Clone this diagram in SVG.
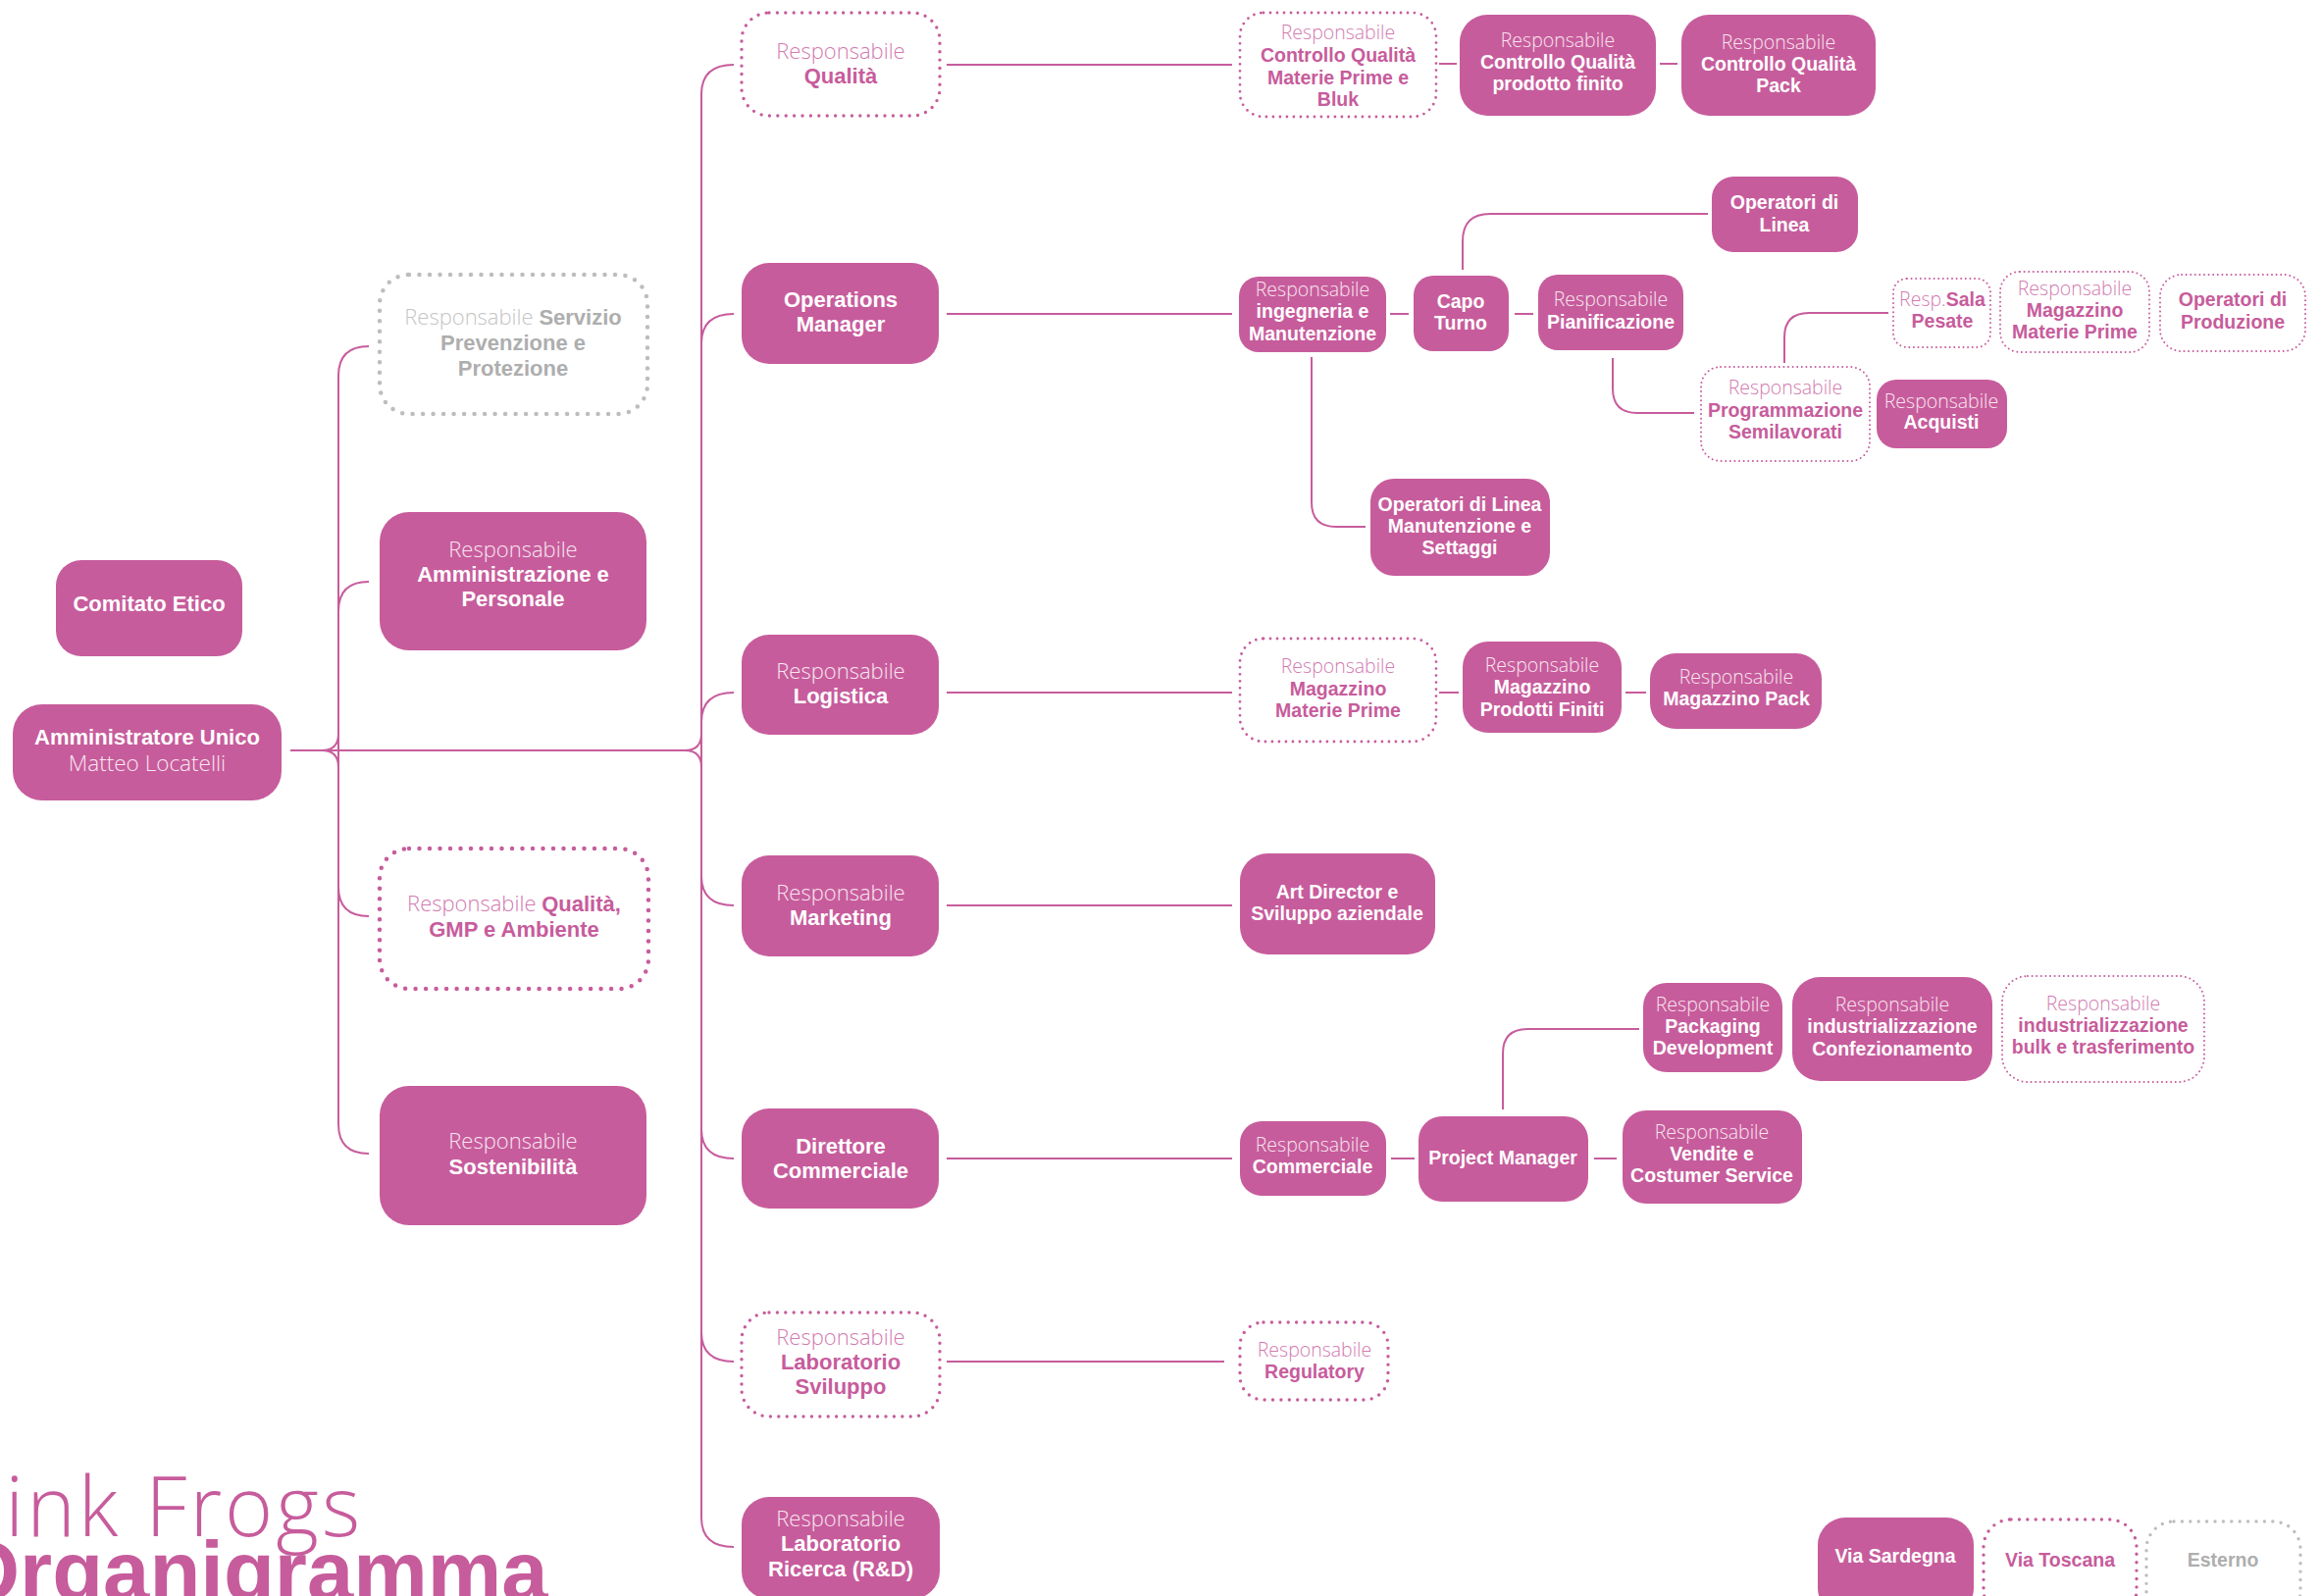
<svg xmlns="http://www.w3.org/2000/svg" width="2366" height="1627" viewBox="0 0 2366 1627">
<defs>
<style>
.bg{fill:#ffffff}
.box{fill:#C75C9C}
.dot{fill:none;stroke:#C75C9C;stroke-linecap:round}
.gdot{fill:none;stroke:#BDBDBD;stroke-linecap:round}
.dl{stroke-width:4.5;stroke-dasharray:0 10.5}
.dm{stroke-width:3.4;stroke-dasharray:0 8.4}
.dm2{stroke-width:2.8;stroke-dasharray:0 7}
.ds{stroke-width:2;stroke-dasharray:0 4.6}
.con{fill:none;stroke:#C75C9C;stroke-width:2}
text{font-family:"Liberation Sans",Arial,sans-serif;text-anchor:middle}
.lt{font-family:"Open Sans","Liberation Sans",Arial,sans-serif;font-weight:300}
.f1{font-size:22px}
.f2{font-size:19.5px}
.b{font-weight:bold}
.w{fill:#FFFFFF}
.wl{fill:#F8E6F0}
.p{fill:#C75C9C}
.pl{fill:#D27AB0}
.g{fill:#AEAEAE}
.gl{fill:#C4C4C4}
</style>
</defs>
<rect class="bg" x="0" y="0" width="2366" height="1627"/>

<g id="connectors">
<path class="con" d="M296 765 H698"/>
<path class="con" d="M328 765 Q345 765 345 748 M328 765 Q345 765 345 782"/>
<path class="con" d="M345 383 V1146"/>
<path class="con" d="M345 383 Q345 353 376 353"/>
<path class="con" d="M345 623 Q345 593 376 593"/>
<path class="con" d="M345 904 Q345 934 376 934"/>
<path class="con" d="M345 1146 Q345 1176 376 1176"/>
<path class="con" d="M698 765 Q715 765 715 748 M698 765 Q715 765 715 782"/>
<path class="con" d="M715 96 V1547"/>
<path class="con" d="M715 96 Q715 66 748 66"/>
<path class="con" d="M715 350 Q715 320 748 320"/>
<path class="con" d="M715 736 Q715 706 748 706"/>
<path class="con" d="M715 893 Q715 923 748 923"/>
<path class="con" d="M715 1151 Q715 1181 748 1181"/>
<path class="con" d="M715 1358 Q715 1388 748 1388"/>
<path class="con" d="M715 1547 Q715 1577 748 1577"/>
<path class="con" d="M965 66 H1256"/>
<path class="con" d="M965 320 H1256"/>
<path class="con" d="M965 706 H1256"/>
<path class="con" d="M965 923 H1256"/>
<path class="con" d="M965 1181 H1256"/>
<path class="con" d="M965 1388 H1248"/>
<path class="con" d="M1467 65 H1485"/>
<path class="con" d="M1692 65 H1710"/>
<path class="con" d="M1417 320 H1436"/>
<path class="con" d="M1544 320 H1563"/>
<path class="con" d="M1467 706 H1487"/>
<path class="con" d="M1657 706 H1678"/>
<path class="con" d="M1418 1181 H1442"/>
<path class="con" d="M1625 1181 H1648"/>
<path class="con" d="M1337 364 V512 Q1337 537 1362 537 H1392"/>
<path class="con" d="M1491 275 V246 Q1491 218 1519 218 H1741"/>
<path class="con" d="M1644 365 V396 Q1644 421 1669 421 H1727"/>
<path class="con" d="M1819 370 V344 Q1819 319 1844 319 H1925"/>
<path class="con" d="M1532 1131 V1074 Q1532 1049 1557 1049 H1671"/>
</g>

<g id="n-amministratore">
<rect class="box" x="13" y="718" width="274" height="98" rx="30"/>
<text class="f1 b w" x="150" y="759">Amministratore Unico</text>
<text class="lt wl" style="font-size:22.5px" x="150" y="786">Matteo Locatelli</text>
</g>
<g id="n-comitato">
<rect class="box" x="57" y="571" width="190" height="98" rx="26"/>
<text class="f1 b w" x="152" y="623">Comitato Etico</text>
</g>
<g id="n-servizio">
<rect class="gdot dl" x="387" y="280" width="273" height="142" rx="30"/>
<text class="f1" x="523" y="331"><tspan class="lt gl">Responsabile </tspan><tspan class="b g">Servizio</tspan></text>
<text class="f1 b g" x="523" y="357">Prevenzione e</text>
<text class="f1 b g" x="523" y="383">Protezione</text>
</g>
<g id="n-amministrazione">
<rect class="box" x="387" y="522" width="272" height="141" rx="30"/>
<text class="f1 lt wl" x="523" y="568">Responsabile</text>
<text class="f1 b w" x="523" y="593">Amministrazione e</text>
<text class="f1 b w" x="523" y="618">Personale</text>
</g>
<g id="n-qualita-gmp">
<rect class="dot dl" x="387" y="865" width="274" height="143" rx="30"/>
<text class="f1" x="524" y="929"><tspan class="lt pl">Responsabile </tspan><tspan class="b p">Qualità,</tspan></text>
<text class="f1 b p" x="524" y="955">GMP e Ambiente</text>
</g>
<g id="n-sostenibilita">
<rect class="box" x="387" y="1107" width="272" height="142" rx="30"/>
<text class="f1 lt wl" x="523" y="1171">Responsabile</text>
<text class="f1 b w" x="523" y="1197">Sostenibilità</text>
</g>

<g id="n-qualita">
<rect class="dot dm" x="756" y="13" width="202" height="105" rx="28"/>
<text class="f1 lt pl" x="857" y="60">Responsabile</text>
<text class="f1 b p" x="857" y="85">Qualità</text>
</g>
<g id="n-operations">
<rect class="box" x="756" y="268" width="201" height="103" rx="28"/>
<text class="f1 b w" x="857" y="313">Operations</text>
<text class="f1 b w" x="857" y="338">Manager</text>
</g>
<g id="n-logistica">
<rect class="box" x="756" y="647" width="201" height="102" rx="28"/>
<text class="f1 lt wl" x="857" y="692">Responsabile</text>
<text class="f1 b w" x="857" y="717">Logistica</text>
</g>
<g id="n-marketing">
<rect class="box" x="756" y="872" width="201" height="103" rx="28"/>
<text class="f1 lt wl" x="857" y="918">Responsabile</text>
<text class="f1 b w" x="857" y="943">Marketing</text>
</g>
<g id="n-direttore">
<rect class="box" x="756" y="1130" width="201" height="102" rx="28"/>
<text class="f1 b w" x="857" y="1176">Direttore</text>
<text class="f1 b w" x="857" y="1201">Commerciale</text>
</g>
<g id="n-lab-sviluppo">
<rect class="dot dm" x="756" y="1338" width="202" height="106" rx="28"/>
<text class="f1 lt pl" x="857" y="1371">Responsabile</text>
<text class="f1 b p" x="857" y="1396">Laboratorio</text>
<text class="f1 b p" x="857" y="1421">Sviluppo</text>
</g>
<g id="n-lab-ricerca">
<rect class="box" x="756" y="1526" width="202" height="104" rx="28"/>
<text class="f1 lt wl" x="857" y="1556">Responsabile</text>
<text class="f1 b w" x="857" y="1581">Laboratorio</text>
<text class="f1 b w" x="857" y="1607">Ricerca (R&amp;D)</text>
</g>

<g id="n-cq-mp">
<rect class="dot dm2" x="1264" y="13" width="200" height="106" rx="24"/>
<text class="f2 lt pl" x="1364" y="40">Responsabile</text>
<text class="f2 b p" x="1364" y="63">Controllo Qualità</text>
<text class="f2 b p" x="1364" y="86">Materie Prime e</text>
<text class="f2 b p" x="1364" y="108">Bluk</text>
</g>
<g id="n-cq-pf">
<rect class="box" x="1488" y="15" width="200" height="103" rx="28"/>
<text class="f2 lt wl" x="1588" y="48">Responsabile</text>
<text class="f2 b w" x="1588" y="70">Controllo Qualità</text>
<text class="f2 b w" x="1588" y="92">prodotto finito</text>
</g>
<g id="n-cq-pack">
<rect class="box" x="1714" y="15" width="198" height="103" rx="28"/>
<text class="f2 lt wl" x="1813" y="50">Responsabile</text>
<text class="f2 b w" x="1813" y="72">Controllo Qualità</text>
<text class="f2 b w" x="1813" y="94">Pack</text>
</g>

<g id="n-ingegneria">
<rect class="box" x="1263" y="282" width="150" height="77" rx="20"/>
<text class="f2 lt wl" x="1338" y="302">Responsabile</text>
<text class="f2 b w" x="1338" y="324">ingegneria e</text>
<text class="f2 b w" x="1338" y="347">Manutenzione</text>
</g>
<g id="n-capo-turno">
<rect class="box" x="1441" y="281" width="97" height="77" rx="20"/>
<text class="f2 b w" x="1489" y="314">Capo</text>
<text class="f2 b w" x="1489" y="336">Turno</text>
</g>
<g id="n-pianificazione">
<rect class="box" x="1568" y="280" width="148" height="77" rx="20"/>
<text class="f2 lt wl" x="1642" y="312">Responsabile</text>
<text class="f2 b w" x="1642" y="335">Pianificazione</text>
</g>
<g id="n-op-linea">
<rect class="box" x="1745" y="180" width="149" height="77" rx="22"/>
<text class="f2 b w" x="1819" y="213">Operatori di</text>
<text class="f2 b w" x="1819" y="236">Linea</text>
</g>
<g id="n-programmazione">
<rect class="dot ds" x="1734" y="374" width="172" height="96" rx="20"/>
<text class="f2 lt pl" x="1820" y="402">Responsabile</text>
<text class="f2 b p" x="1820" y="425">Programmazione</text>
<text class="f2 b p" x="1820" y="447">Semilavorati</text>
</g>
<g id="n-acquisti">
<rect class="box" x="1913" y="387" width="133" height="70" rx="20"/>
<text class="f2 lt wl" x="1979" y="416">Responsabile</text>
<text class="f2 b w" x="1979" y="437">Acquisti</text>
</g>
<g id="n-sala-pesate">
<rect class="dot ds" x="1930" y="284" width="99" height="70" rx="14"/>
<text class="f2" x="1980" y="312"><tspan class="lt pl">Resp.</tspan><tspan class="b p">Sala</tspan></text>
<text class="f2 b p" x="1980" y="334">Pesate</text>
</g>
<g id="n-mag-mp-ops">
<rect class="dot ds" x="2039" y="277" width="152" height="82" rx="20"/>
<text class="f2 lt pl" x="2115" y="301">Responsabile</text>
<text class="f2 b p" x="2115" y="323">Magazzino</text>
<text class="f2 b p" x="2115" y="345">Materie Prime</text>
</g>
<g id="n-op-produzione">
<rect class="dot ds" x="2202" y="280" width="148" height="78" rx="22"/>
<text class="f2 b p" x="2276" y="312">Operatori di</text>
<text class="f2 b p" x="2276" y="335">Produzione</text>
</g>
<g id="n-op-linea-man">
<rect class="box" x="1397" y="488" width="183" height="99" rx="24"/>
<text class="f2 b w" x="1488" y="521">Operatori di Linea</text>
<text class="f2 b w" x="1488" y="543">Manutenzione e</text>
<text class="f2 b w" x="1488" y="565">Settaggi</text>
</g>

<g id="n-mag-mp">
<rect class="dot dm2" x="1264" y="651" width="200" height="105" rx="24"/>
<text class="f2 lt pl" x="1364" y="686">Responsabile</text>
<text class="f2 b p" x="1364" y="709">Magazzino</text>
<text class="f2 b p" x="1364" y="731">Materie Prime</text>
</g>
<g id="n-mag-pf">
<rect class="box" x="1491" y="654" width="162" height="93" rx="26"/>
<text class="f2 lt wl" x="1572" y="685">Responsabile</text>
<text class="f2 b w" x="1572" y="707">Magazzino</text>
<text class="f2 b w" x="1572" y="730">Prodotti Finiti</text>
</g>
<g id="n-mag-pack">
<rect class="box" x="1682" y="666" width="175" height="77" rx="26"/>
<text class="f2 lt wl" x="1770" y="697">Responsabile</text>
<text class="f2 b w" x="1770" y="719">Magazzino Pack</text>
</g>

<g id="n-art-director">
<rect class="box" x="1264" y="870" width="199" height="103" rx="28"/>
<text class="f2 b w" x="1363" y="916">Art Director e</text>
<text class="f2 b w" x="1363" y="938">Sviluppo aziendale</text>
</g>

<g id="n-resp-commerciale">
<rect class="box" x="1264" y="1143" width="149" height="76" rx="22"/>
<text class="f2 lt wl" x="1338" y="1174">Responsabile</text>
<text class="f2 b w" x="1338" y="1196">Commerciale</text>
</g>
<g id="n-project-manager">
<rect class="box" x="1446" y="1138" width="173" height="87" rx="24"/>
<text class="f2 b w" x="1532" y="1187">Project Manager</text>
</g>
<g id="n-vendite">
<rect class="box" x="1654" y="1132" width="183" height="95" rx="24"/>
<text class="f2 lt wl" x="1745" y="1161">Responsabile</text>
<text class="f2 b w" x="1745" y="1183">Vendite e</text>
<text class="f2 b w" x="1745" y="1205">Costumer Service</text>
</g>
<g id="n-packaging">
<rect class="box" x="1675" y="1002" width="142" height="91" rx="24"/>
<text class="f2 lt wl" x="1746" y="1031">Responsabile</text>
<text class="f2 b w" x="1746" y="1053">Packaging</text>
<text class="f2 b w" x="1746" y="1075">Development</text>
</g>
<g id="n-ind-conf">
<rect class="box" x="1827" y="996" width="204" height="106" rx="28"/>
<text class="f2 lt wl" x="1929" y="1031">Responsabile</text>
<text class="f2 b w" x="1929" y="1053">industrializzazione</text>
<text class="f2 b w" x="1929" y="1076">Confezionamento</text>
</g>
<g id="n-ind-bulk">
<rect class="dot ds" x="2041" y="995" width="206" height="108" rx="26"/>
<text class="f2 lt pl" x="2144" y="1030">Responsabile</text>
<text class="f2 b p" x="2144" y="1052">industrializzazione</text>
<text class="f2 b p" x="2144" y="1074">bulk e trasferimento</text>
</g>

<g id="n-regulatory">
<rect class="dot dm" x="1264" y="1348" width="151" height="79" rx="24"/>
<text class="f2 lt pl" x="1340" y="1383">Responsabile</text>
<text class="f2 b p" x="1340" y="1405">Regulatory</text>
</g>

<g id="legend-via-sardegna">
<rect class="box" x="1853" y="1547" width="159" height="100" rx="28"/>
<text class="f2 b w" x="1932" y="1593">Via Sardegna</text>
</g>
<g id="legend-via-toscana">
<rect class="dot dm" x="2022" y="1549" width="156" height="100" rx="28"/>
<text class="f2 b p" x="2100" y="1597">Via Toscana</text>
</g>
<g id="legend-esterno">
<rect class="gdot dm" x="2188" y="1551" width="157" height="100" rx="28"/>
<text class="f2 b g" x="2266" y="1597">Esterno</text>
</g>

<g id="title">
<text class="lt p" style="text-anchor:start;font-size:84px;letter-spacing:3px" x="-47" y="1566">Pink Frogs</text>
<text class="p b" style="text-anchor:start;font-size:85px" x="-46" y="1631">Organigramma</text>
</g>
</svg>
